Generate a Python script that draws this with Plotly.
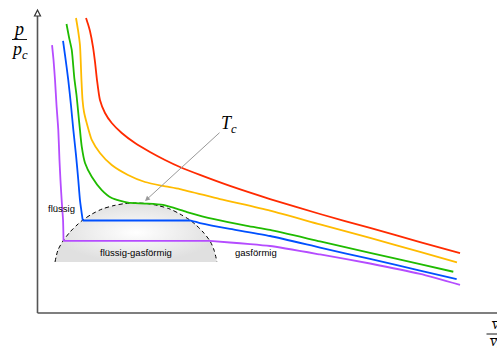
import plotly.graph_objects as go

# ---- data (reduced volume v/v_c, reduced pressure p/p_c) ----
v_red = [0.495, 0.515, 0.535, 0.566, 0.586, 0.606, 0.636, 0.687, 0.755, 0.856, 0.990, 1.141, 1.293, 1.444, 1.646, 1.949, 2.354, 2.859, 3.364, 3.869, 4.273]
p_red = [2.682, 2.627, 2.564, 2.418, 2.282, 2.118, 1.936, 1.818, 1.727, 1.636, 1.545, 1.464, 1.391, 1.327, 1.255, 1.155, 1.036, 0.900, 0.773, 0.645, 0.545]

v_orange = [0.394, 0.414, 0.434, 0.449, 0.460, 0.475, 0.502, 0.553, 0.636, 0.755, 0.919, 1.091, 1.273, 1.444, 1.848, 2.354, 2.859, 3.364, 3.869, 4.242]
p_orange = [2.682, 2.573, 2.436, 2.118, 1.936, 1.827, 1.727, 1.573, 1.455, 1.345, 1.255, 1.191, 1.155, 1.127, 1.036, 0.930, 0.805, 0.682, 0.555, 0.461]

v_green = [0.298, 0.323, 0.351, 0.377, 0.399, 0.417, 0.434, 0.452, 0.485, 0.553, 0.654, 0.755, 0.919, 1.091, 1.273, 1.515, 1.778, 2.121, 2.354, 2.859, 3.364, 3.869, 4.205]
p_green = [2.627, 2.509, 2.391, 2.136, 1.982, 1.818, 1.664, 1.512, 1.364, 1.239, 1.118, 1.045, 1.003, 0.995, 0.982, 0.918, 0.855, 0.791, 0.755, 0.651, 0.547, 0.444, 0.375]

v_blue = [0.263, 0.283, 0.316, 0.343, 0.367, 0.394, 0.417, 0.434, 0.462, 1.545, 1.646, 1.949, 2.354, 2.859, 3.364, 3.869, 4.239]
p_blue = [2.473, 2.345, 2.118, 1.891, 1.664, 1.436, 1.209, 1.027, 0.841, 0.841, 0.818, 0.764, 0.700, 0.595, 0.491, 0.386, 0.309]

v_purple = [0.152, 0.167, 0.182, 0.197, 0.215, 0.227, 0.237, 0.249, 0.263, 0.268, 1.747, 1.949, 2.152, 2.354, 2.859, 3.364, 3.869, 4.273]
p_purple = [2.436, 2.300, 2.118, 1.891, 1.664, 1.391, 1.209, 1.027, 0.845, 0.655, 0.655, 0.641, 0.627, 0.609, 0.532, 0.450, 0.355, 0.255]

# coexistence (binodal) dome
v_dome = [0.182, 0.212, 0.263, 0.333, 0.404, 0.462, 0.556, 0.657, 0.778, 0.889, 1.000, 1.111, 1.222, 1.343, 1.444, 1.545, 1.606, 1.677, 1.747, 1.788, 1.818]
p_dome = [0.464, 0.573, 0.655, 0.736, 0.800, 0.845, 0.900, 0.945, 0.977, 0.995, 1.000, 0.995, 0.977, 0.945, 0.900, 0.845, 0.800, 0.736, 0.655, 0.573, 0.464]

v_crit, p_crit = 1.091, 1.018

isotherms = [
    ("red", v_red, p_red, "#ff2a00"),
    ("orange", v_orange, p_orange, "#ffbb00"),
    ("green", v_green, p_green, "#1fbb00"),
    ("blue", v_blue, p_blue, "#0050ff"),
    ("purple", v_purple, p_purple, "#b54cff"),
]

W, H = 497, 354
# plot area, in window pixels
PL, PR, PT, PB = 30, 497, 0, 320
X_RANGE = [(PL - 37) / 99, (PR - 37) / 99]
Y_RANGE = [(313 - PB) / 110, (313 - PT) / 110]


def paper(px, py):
    return (px - PL) / (PR - PL), (PB - py) / (PB - PT)


fig = go.Figure()

fig.add_trace(go.Scatter(
    x=v_dome, y=p_dome, mode="lines", fill="toself",
    fillgradient=dict(type="radial", colorscale=[[0, "#ffffff"], [1, "#e0e0e0"]]),
    line=dict(color="black", width=1, dash="4px,3px", shape="spline", smoothing=0.8),
    hoverinfo="skip",
))


def segments(vx, py_):
    """split an isotherm into curved parts and flat (coexistence) parts"""
    segs, start = [], 0
    for i in range(len(py_) - 1):
        if py_[i] == py_[i + 1]:
            segs.append((start, i + 1, "spline"))
            segs.append((i, i + 2, "linear"))
            start = i + 1
    segs.append((start, len(py_), "spline"))
    return [(vx[a:b], py_[a:b], s) for a, b, s in segs if b - a >= 2]


for name, vx, py_, col in isotherms:
    for sx, sy, shp in segments(vx, py_):
        fig.add_trace(go.Scatter(
            x=sx, y=sy, mode="lines", name=name,
            line=dict(color=col, width=1.8, shape=shp, smoothing=0.6),
        ))

serif = "Liberation Serif, DejaVu Serif, serif"
sans = "Liberation Sans, Arial, sans-serif"

annotations = []
# T_c arrow
annotations.append(dict(
    x=v_crit, y=p_crit, xref="x", yref="y",
    ax=(229 - 37) / 99, ay=(313 - 124) / 110, axref="x", ayref="y",
    text="<i>T</i><sub><i>c</i></sub>", font=dict(family=serif, size=18, color="black"),
    showarrow=True, arrowhead=2, arrowsize=1, arrowwidth=1, arrowcolor="#999999",
))


def txt(px, py, text, size, family, xanchor="center"):
    x, y = paper(px, py)
    annotations.append(dict(x=x, y=y, xref="paper", yref="paper", text=text,
                            showarrow=False, xanchor=xanchor, yanchor="middle",
                            font=dict(family=family, size=size, color="black")))


txt(61, 208, "flüssig", 9.5, sans)
txt(136, 252.5, "flüssig-gasförmig", 9.5, sans)
txt(256, 252.5, "gasförmig", 9.5, sans)

# axis labels
txt(18, 29, "<i>p</i>", 18, serif)
txt(19, 50, "<i>p</i><sub><i>c</i></sub>", 18, serif)
txt(488.5, 324, "<i>v\u0305</i>", 15, serif, xanchor="left")
txt(487, 342, "<i>v\u0305</i><sub><i>c</i></sub>", 15, serif, xanchor="left")

shapes = []
# fraction bars
bx0, by0 = paper(12, 39.5)
bx1, _ = paper(27, 39.5)
shapes.append(dict(type="line", xref="paper", yref="paper", x0=bx0, x1=bx1, y0=by0, y1=by0,
                   line=dict(color="black", width=0.9)))
cx0, cy0 = paper(486.5, 334)
cx1, _ = paper(500, 334)
shapes.append(dict(type="line", xref="paper", yref="paper", x0=cx0, x1=cx1, y0=cy0, y1=cy0,
                   line=dict(color="black", width=0.9)))
# axes
ox, oy = paper(37.5, 313)
_, ty = paper(37.5, 16)
ex, _ = paper(497, 313)
shapes.append(dict(type="line", xref="paper", yref="paper", x0=ox, x1=ox, y0=oy, y1=ty,
                   line=dict(color="#555555", width=1.6)))
shapes.append(dict(type="line", xref="paper", yref="paper", x0=ox, x1=ex, y0=oy, y1=oy,
                   line=dict(color="#555555", width=1.6)))
# arrow head (open triangle) at top of p axis
shapes.append(dict(type="path", xref="paper", yref="paper", xsizemode="pixel", ysizemode="pixel",
                   xanchor=ox, yanchor=ty, path="M-3,0 L3,0 L0,6 Z",
                   line=dict(color="#333333", width=1.2), fillcolor="white"))

fig.update_layout(
    width=W, height=H,
    margin=dict(l=PL, r=W - PR, t=PT, b=H - PB, autoexpand=False),
    paper_bgcolor="white", plot_bgcolor="white",
    showlegend=False,
    xaxis=dict(range=X_RANGE, visible=False, fixedrange=True),
    yaxis=dict(range=Y_RANGE, visible=False, fixedrange=True),
    annotations=annotations, shapes=shapes,
)

fig.write_html(
    "out.html",
    config={"displayModeBar": False},
    post_script="document.body.style.margin='0';document.body.style.overflow='hidden';",
)
